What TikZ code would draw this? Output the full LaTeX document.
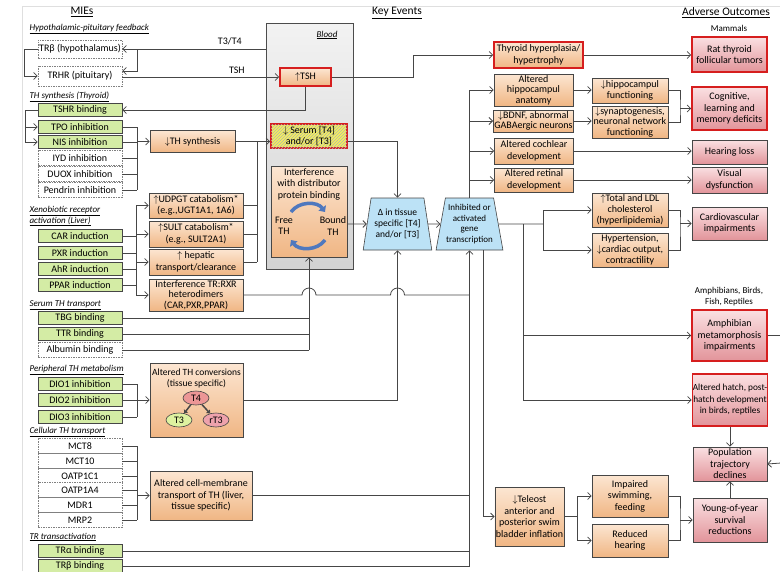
\documentclass[tikz,border=0pt]{standalone}
\usepackage{fontspec}
\setmainfont{Carlito}
\usepackage{amsmath,amssymb}
\usetikzlibrary{arrows.meta,shapes.geometric,patterns}

\definecolor{linegray}{RGB}{70,70,70}
\definecolor{miegreen}{RGB}{212,236,165}
\definecolor{kelight}{RGB}{252,230,210}
\definecolor{kedark}{RGB}{240,182,132}
\definecolor{aolight}{RGB}{250,224,226}
\definecolor{aodark}{RGB}{226,148,154}
\definecolor{borderred}{RGB}{214,30,30}
\definecolor{trapblue}{RGB}{188,226,246}
\definecolor{arcblue}{RGB}{79,120,190}
\definecolor{serumyellow}{RGB}{246,242,88}

\begin{document}
\begin{tikzpicture}[x=1pt,y=-1pt,
  font=\fontsize{10}{11.5}\selectfont,
  >={Straight Barb[length=3.5pt,width=7pt]},
  conn/.style={draw=linegray,line width=0.8pt},
  box/.style={draw=linegray,line width=0.6pt,align=center,inner sep=1pt},
  mie/.style={box,fill=miegreen,minimum width=84pt,minimum height=13pt},
  miedash/.style={box,fill=white,draw=gray,dash pattern=on 1.5pt off 1pt,minimum width=84pt,minimum height=14.6pt},
  ke/.style={box,top color=kelight,bottom color=kedark},
  kebold/.style={ke,draw=borderred,line width=1.6pt},
  ao/.style={box,top color=aolight,bottom color=aodark},
  aobold/.style={ao,draw=borderred,line width=1.6pt},
  trap/.style={trapezium,trapezium angle=77,trapezium stretches=true,draw=linegray,line width=0.6pt,fill=trapblue,align=center,inner sep=0pt,minimum height=52pt,font=\fontsize{9.5}{11}\selectfont},
  sect/.style={anchor=west,align=left,font=\fontsize{9}{11}\selectfont\itshape},
  hdr/.style={font=\fontsize{11.5}{13}\selectfont},
  th/.style={ellipse,draw=linegray,line width=0.6pt,inner sep=0pt,minimum width=26pt,minimum height=14pt},
  ]
\useasboundingbox (0,0) rectangle (780,571);
\draw[gray!25] (22,571) -- (22,6) -- (780,6);

\node[hdr] (hmie) at (82,12) {\underline{MIEs}};
\node[hdr] (hke) at (397,13) {\underline{Key Events}};
\node[hdr] (hao) at (726,13) {\underline{Adverse Outcomes}};
\node[font=\fontsize{9}{11}\selectfont] (mammals) at (729,28) {Mammals};
\node[align=center,font=\fontsize{9}{11}\selectfont] (others) at (729,297) {Amphibians, Birds,\\Fish, Reptiles};

\node[sect] (shp) at (26,29) {\underline{Hypothalamic-pituitary feedback}};
\node[sect] (sths) at (26,97) {\underline{TH synthesis (Thyroid)}};
\node[sect] (sxen) at (26,216) {\underline{Xenobiotic receptor}\\\underline{activation (Liver)}};
\node[sect] (sser) at (26,305) {\underline{Serum TH transport}};
\node[sect] (sper) at (26,370) {\underline{Peripheral TH metabolism}};
\node[sect] (scel) at (26,432) {\underline{Cellular TH transport}};
\node[sect] (str) at (26,537) {\underline{TR transactivation}};

\node[miedash,minimum height=18pt] (trb) at (80,49) {TRβ (hypothalamus)};
\node[miedash,minimum height=20pt] (trhr) at (80,76) {TRHR (pituitary)};
\foreach \n/\y/\t in {tshr/110/TSHR binding, tpo/127/TPO inhibition, nis/142/NIS inhibition,
  car/236/CAR induction, pxr/253/PXR induction, ahr/269/AhR induction, ppar/285/PPAR induction,
  tbg/318/TBG binding, ttr/334/TTR binding, dio1/384/DIO1 inhibition, dio2/400/DIO2 inhibition,
  dio3/417/DIO3 inhibition, tra/551/TRα binding, trbb/566/TRβ binding}
  \node[mie] (\n) at (80,\y) {\t};
\foreach \n/\y/\t in {iyd/158/IYD inhibition, duox/174/DUOX inhibition, pendrin/190/Pendrin inhibition,
  alb/350/Albumin binding, mct8/446/MCT8, mct10/461/MCT10, oatpc/476/OATP1C1, oatpa/490/OATP1A4,
  mdr/505/MDR1, mrp/520/MRP2}
  \node[miedash] (\n) at (80,\y) {\t};

\node[ke,minimum width=85pt,minimum height=22pt] (thsyn) at (192.5,141.5) {$\downarrow$TH synthesis};
\node[ke,minimum width=94pt,minimum height=25pt] (udpgt) at (196,205.5) {$\uparrow$UDPGT catabolism*\\(e.g.,UGT1A1, 1A6)};
\node[ke,minimum width=94pt,minimum height=26pt] (sult) at (196,234) {$\uparrow$SULT catabolism*\\(e.g., SULT2A1)};
\node[ke,minimum width=94pt,minimum height=26pt] (hepatic) at (196,262) {$\uparrow$ hepatic\\transport/clearance};
\node[ke,minimum width=94pt,minimum height=32pt,font=\fontsize{10}{10.5}\selectfont] (interf) at (196,295) {Interference TR:RXR\\heterodimers\\(CAR,PXR,PPAR)};
\node[ke,minimum width=93pt,minimum height=74pt] (convers) at (196.5,400) {};
\node[align=center,font=\fontsize{9.5}{11}\selectfont] (convtxt) at (196.5,378) {Altered TH conversions\\(tissue specific)};
\node[th,fill={rgb,255:red,236;green,150;blue,150}] (t4) at (196,398) {T4};
\node[th,fill={rgb,255:red,222;green,242;blue,160}] (t3) at (179,420) {T3};
\node[th,fill={rgb,255:red,238;green,162;blue,172}] (rt3) at (216,420) {rT3};
\draw[linegray,line width=1.5pt,-{Triangle[length=3pt,width=5pt]}] (t4) -- (t3);
\draw[linegray,line width=1.5pt,-{Triangle[length=3pt,width=5pt]}] (t4) -- (rt3);
\node[ke,minimum width=102pt,minimum height=49pt] (cellm) at (201,495.5) {Altered cell-membrane\\transport of TH (liver,\\tissue specific)};

\node[box,draw=gray!60!black,top color=gray!10,bottom color=gray!35,minimum width=87pt,minimum height=246pt] (blood) at (309.5,146) {};
\node[font=\fontsize{9}{11}\selectfont\itshape] (bloodlbl) at (327,35) {\underline{Blood}};
\node[kebold,minimum width=51pt,minimum height=18pt] (tsh) at (305.5,77) {$\uparrow$TSH};
\node[box,draw=borderred,line width=1.6pt,fill=serumyellow,postaction={pattern=north east lines,pattern color=gray!60},minimum width=76pt,minimum height=24pt] (serum) at (309,136) {$\downarrow$ Serum [T4]\\and/or [T3]};
\node[ke,minimum width=76pt,minimum height=91pt] (distrib) at (309,211.5) {};
\node[align=center] (distribtxt) at (309,184) {Interference\\with distributor\\protein binding};
\node[align=center] (freeth) at (284,226) {Free\\TH};
\node[align=center] (boundth) at (333,226) {Bound\\TH};
\draw[arcblue,line width=3.5pt,-{Triangle[length=5pt,width=9pt]}] (291,212) to[bend left=55] (325,212);
\draw[arcblue,line width=3.5pt,-{Triangle[length=5pt,width=9pt]}] (325,240) to[bend left=55] (291,240);

\node[trap,minimum width=69pt] (tissue) at (397.5,224) {Δ in tissue\\specific [T4]\\and/or [T3]};
\node[trap,minimum width=67pt,font=\fontsize{9}{10.5}\selectfont] (genetr) at (469.5,224) {Inhibited or\\activated\\gene\\transcription};

\node[kebold,minimum width=89pt,minimum height=26pt] (thyroid) at (538.5,55) {Thyroid hyperplasia/\\hypertrophy};
\node[ke,minimum width=79pt,minimum height=32pt,font=\fontsize{10}{10.5}\selectfont] (hipanat) at (533.5,90) {Altered\\hippocampul\\anatomy};
\node[ke,minimum width=79pt,minimum height=22pt,font=\fontsize{10}{10.5}\selectfont] (bdnf) at (533.5,121) {$\downarrow$BDNF, abnormal\\GABAergic neurons};
\node[ke,minimum width=79pt,minimum height=26pt] (cochlear) at (534,151) {Altered cochlear\\development};
\node[ke,minimum width=79pt,minimum height=24pt] (retinal) at (534,180) {Altered retinal\\development};
\node[ke,minimum width=76pt,minimum height=25pt] (hipfun) at (630,90.5) {$\downarrow$hippocampul\\functioning};
\node[ke,minimum width=76pt,minimum height=32pt,font=\fontsize{10}{10.5}\selectfont] (synap) at (630,122) {$\downarrow$synaptogenesis,\\neuronal network\\functioning};
\node[ke,minimum width=76pt,minimum height=34pt,font=\fontsize{10}{11}\selectfont] (ldl) at (630,210) {$\uparrow$Total and LDL\\cholesterol\\(hyperlipidemia)};
\node[ke,minimum width=76pt,minimum height=34pt,font=\fontsize{10}{11}\selectfont] (hypert) at (630,250) {Hypertension,\\$\downarrow$cardiac output,\\contractility};
\node[ke,minimum width=67pt,minimum height=59pt] (teleost) at (529.5,516.5) {$\downarrow$Teleost\\anterior and\\posterior swim\\bladder inflation};
\node[ke,minimum width=76pt,minimum height=42pt] (swim) at (630,496) {Impaired\\swimming,\\feeding};
\node[ke,minimum width=76pt,minimum height=33pt] (redhear) at (630,540.5) {Reduced\\hearing};

\node[aobold,minimum width=75pt,minimum height=35pt] (rat) at (729.5,54.5) {Rat thyroid\\follicular tumors};
\node[aobold,minimum width=75pt,minimum height=43pt] (cognit) at (729.5,108.5) {Cognitive,\\learning and\\memory deficits};
\node[ao,minimum width=75pt,minimum height=24pt] (hearing) at (729.5,152) {Hearing loss};
\node[ao,minimum width=75pt,minimum height=26pt] (visual) at (729.5,180) {Visual\\dysfunction};
\node[ao,minimum width=75pt,minimum height=33pt] (cardio) at (729.5,223.5) {Cardiovascular\\impairments};
\node[aobold,minimum width=75pt,minimum height=51pt] (amph) at (729.5,335.5) {Amphibian\\metamorphosis\\impairments};
\node[aobold,minimum width=75pt,minimum height=52pt,inner sep=0pt,font=\fontsize{9.3}{11.5}\selectfont] (hatch) at (730,400) {Altered hatch, post-\\hatch development\\in birds, reptiles};
\node[ao,minimum width=74pt,minimum height=34pt] (popul) at (730,464) {Population\\trajectory\\declines};
\node[ao,minimum width=74pt,minimum height=44pt] (young) at (730,520) {Young-of-year\\survival\\reductions};

\draw[conn,->] (blood.west |- trb) -- node[above,pos=0.25]{T3/T4} (trb);
\coordinate (fbx) at (137,49);
\draw[conn,->] (fbx) |- ([yshift=5pt]trhr.east);
\draw[conn,->] (trhr.east |- tsh) -- node[above,pos=0.73]{TSH} (tsh);
\draw[conn,->] (trb.west) -- ++(-13,0) |- (trhr.west);
\draw[conn,->] (tsh.south) |- (tshr.east);
\coordinate (tshx) at (25,110);
\draw[conn,->] (tshr.west) -- (tshx) |- (nis.west);
\draw[conn,->] (tshx |- tpo) -- (tpo.west);

\coordinate (thx) at (137,127);
\foreach \n in {tpo,nis,iyd,duox,pendrin} \draw[conn] (\n.east) -- (\n.east -| thx);
\draw[conn] (thx) -- (thx |- pendrin);
\draw[conn,->] (thx |- thsyn) -- (thsyn.west);
\draw[conn,->] (thsyn.east) -- (thsyn.east -| serum.west);
\coordinate (colx) at (257,141.5);
\foreach \n in {udpgt,sult,hepatic} \draw[conn] (\n.east) -- (\n.east -| colx);
\draw[conn] (colx) -- (colx |- hepatic);

\coordinate (xenx) at (136,205.5);
\foreach \n in {car,pxr,ahr,ppar} \draw[conn] (\n.east) -- (\n.east -| xenx);
\draw[conn] (xenx) -- (xenx |- interf);
\foreach \n in {udpgt,sult,hepatic,interf} \draw[conn,->] (xenx |- \n) -- (\n.west);

\draw[conn,->] (serum.east |- thsyn) -| (tissue.north);
\draw[conn,->] (distrib.east |- tissue) -- (tissue.west);
\draw[conn,->] (tissue.east) -- (genetr.west);

\foreach \n in {tbg,ttr,alb} \draw[conn] (\n.east) -- (\n.east -| distrib.south);
\draw[conn,->] (distrib.south |- alb) -- (distrib.south);
\coordinate (diox) at (137,384);
\foreach \n in {dio1,dio2,dio3} \draw[conn] (\n.east) -- (\n.east -| diox);
\draw[conn] (diox) -- (diox |- dio3);
\draw[conn,->] (diox |- convers) -- (convers.west);
\draw[conn,->] (convers.east) -| (tissue.south);
\coordinate (cellx) at (137,446);
\foreach \n in {mct8,mct10,oatpc,oatpa,mdr,mrp} \draw[conn] (\n.east) -- (\n.east -| cellx);
\draw[conn] (cellx) -- (cellx |- mrp);
\draw[conn,->] (cellx |- cellm) -- (cellm.west);

\draw[conn,->] (genetr.south |- trbb) -- (genetr.south);
\foreach \n in {cellm,tra,trbb} \draw[conn] (\n.east) -- (\n.east -| genetr.south);
\draw[conn] (interf.east) -- (302,295) arc[start angle=180,end angle=0,radius=7pt]
  -- (390.5,295) arc[start angle=180,end angle=0,radius=7pt] -- (interf.east -| genetr.south);

\draw[conn] (genetr.north) -- (genetr.north |- hipanat);
\foreach \n in {hipanat,bdnf,cochlear,retinal} \draw[conn,->] (genetr.north |- \n) -- (\n.west);
\coordinate (cardx) at (543,224);
\draw[conn] (genetr.east) -- (cardx);
\draw[conn] (cardx |- ldl) -- (cardx |- hypert);
\foreach \n in {ldl,hypert} \draw[conn,->] (cardx |- \n) -- (\n.west);
\coordinate (devx) at (523,224);
\draw[conn] (devx) -- (devx |- hatch);
\foreach \n in {amph,hatch} \draw[conn,->] (devx |- \n) -- (\n.west);
\draw[conn,->] ([xshift=13.5pt]genetr.south) |- (teleost.west);

\coordinate (tshx2) at (413,77);
\draw[conn,->] (tsh.east) -- (tshx2) |- (thyroid.west);
\draw[conn,->] (thyroid.east) -- (thyroid.east -| rat.west);
\draw[conn,->] (hipanat.east) -- (hipanat.east -| hipfun.west);
\draw[conn,->] (bdnf.east) -- (bdnf.east -| synap.west);
\coordinate (cogx) at (680,108.5);
\draw[conn] (hipfun.east) -| (cogx) |- (synap.east);
\draw[conn,->] (cogx) -- (cognit.west);
\draw[conn,->] (cochlear.east) -- (cochlear.east -| hearing.west);
\draw[conn,->] (retinal.east) -- (retinal.east -| visual.west);
\coordinate (cvx) at (680,223.5);
\draw[conn] (ldl.east) -| (cvx) |- (hypert.east);
\draw[conn,->] (cvx) -- (cardio.west);

\coordinate (offa) at (781,335.5);
\draw[conn] (amph.east) -- (offa);
\coordinate (offp) at (781,463);
\draw[conn,->] (offp) -- (popul.east);
\draw[conn,->] (hatch.south) -- (popul.north);
\draw[conn,->] (young.north) -- (popul.south);

\coordinate (telx) at (577,516.5);
\draw[conn] (teleost.east) -- (telx);
\draw[conn] (telx |- swim) -- (telx |- redhear);
\foreach \n in {swim,redhear} \draw[conn,->] (telx |- \n) -- (\n.west);
\coordinate (yx) at (680,520);
\draw[conn] (swim.east) -| (yx) |- (redhear.east);
\draw[conn,->] (yx) -- (young.west);
\end{tikzpicture}
\end{document}
